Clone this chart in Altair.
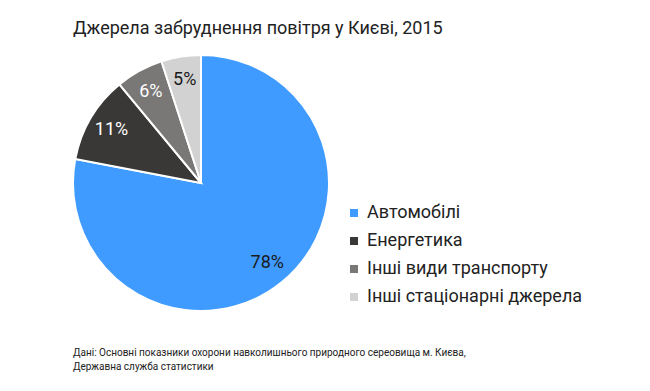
import altair as alt
import pandas as pd

categories = ["Автомобілі", "Енергетика", "Інші види транспорту", "Інші стаціонарні джерела"]
values = [78, 11, 6, 5]
colors = ["#3f9bff", "#3a3836", "#7a7877", "#d3d2d2"]
label_colors = ["#1a1a1a", "#ffffff", "#ffffff", "#1a1a1a"]
source_lines = ["Дані: Основні показники охорони навколишнього природного сереовища м. Києва,",
                "Державна служба статистики"]

df = pd.DataFrame({
    "cat": categories,
    "val": values,
    "order": list(range(len(categories))),
    "label": [f"{v}%" for v in values],
    "lc": label_colors,
})

cx, cy = 193, 130

base = alt.Chart(df).encode(
    theta=alt.Theta("val:Q", stack=True),
    order=alt.Order("order:Q"),
)

pie = base.mark_arc(radius=128, stroke="white", strokeWidth=2).encode(
    color=alt.Color(
        "cat:N",
        scale=alt.Scale(domain=categories, range=colors),
        sort=categories,
        legend=alt.Legend(
            title=None,
            orient="none",
            legendX=337,
            legendY=151,
            symbolType="square",
            symbolSize=64,
            symbolStrokeWidth=0,
            labelFont="Roboto",
            labelFontSize=18,
            labelColor="#222222",
            labelLimit=0,
            rowPadding=10,
            labelOffset=4,
        ),
    ),
    x=alt.value(cx),
    y=alt.value(cy),
)

labels = base.mark_text(radius=104, font="Roboto", fontSize=18, align="center", baseline="middle").encode(
    text="label:N",
    color=alt.Color("lc:N", scale=None),
    x=alt.value(cx),
    y=alt.value(cy),
)

src = pd.DataFrame({"line": source_lines, "i": [0, 1]})
source = alt.Chart(src).mark_text(
    align="left", baseline="alphabetic", font="Roboto", fontSize=10, color="#222222"
).encode(
    text="line:N",
    x=alt.value(65),
    y=alt.Y("i:Q", axis=None, scale=alt.Scale(domain=[0, 1], range=[303, 317])),
)

chart = alt.layer(pie, labels, source).properties(
    width=634,
    height=330,
    padding={"top": 45, "left": 0, "right": 0, "bottom": 0},
    autosize=alt.AutoSizeParams(type="none"),
    title=alt.TitleParams(
        "Джерела забруднення повітря у Києві, 2015",
        anchor="start",
        frame="group",
        dx=65,
        offset=13,
        font="Roboto",
        fontSize=18,
        fontWeight="normal",
        color="#222222",
    ),
).configure_view(stroke=None)

chart.save("out.html", embed_options={"renderer": "svg", "actions": False})
